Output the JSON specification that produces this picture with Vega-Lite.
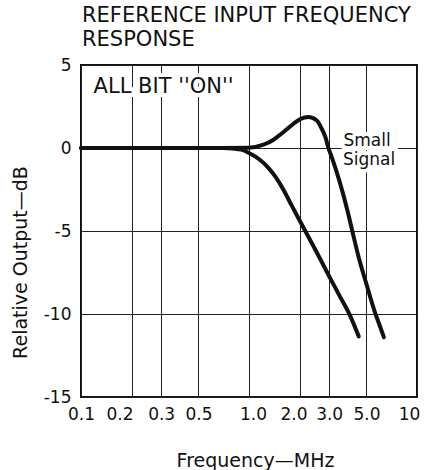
{
  "$schema": "https://vega.github.io/schema/vega-lite/v6.json",
  "width": 336,
  "height": 332,
  "autosize": "none",
  "padding": {"left": 81, "top": 65, "right": 14, "bottom": 73},
  "background": "white",
  "title": {
    "text": ["REFERENCE INPUT FREQUENCY", "RESPONSE"],
    "anchor": "start",
    "frame": "group",
    "font": "DejaVu Sans",
    "fontSize": 21,
    "fontWeight": "normal",
    "color": "#111",
    "lineHeight": 24,
    "baseline": "bottom",
    "offset": 14,
    "dx": 1,
    "dy": 29
  },
  "config": {
    "view": {"stroke": "#111", "strokeWidth": 2},
    "axis": {
      "grid": true,
      "gridColor": "#222",
      "gridWidth": 1,
      "gridOpacity": 1,
      "domain": false,
      "ticks": false,
      "labelFont": "DejaVu Sans",
      "labelFontSize": 17,
      "labelColor": "#111",
      "titleFont": "DejaVu Sans",
      "titleFontSize": 19,
      "titleFontWeight": "normal",
      "titleColor": "#111"
    }
  },
  "datasets": {
    "curves": [
      {"series": "Small Signal", "f": 0.1, "v": 0},
      {"series": "Small Signal", "f": 0.3, "v": 0},
      {"series": "Small Signal", "f": 0.6, "v": 0},
      {"series": "Small Signal", "f": 1.0, "v": 0.02},
      {"series": "Small Signal", "f": 1.22, "v": 0.2},
      {"series": "Small Signal", "f": 1.4, "v": 0.5},
      {"series": "Small Signal", "f": 1.6, "v": 0.95},
      {"series": "Small Signal", "f": 1.84, "v": 1.46},
      {"series": "Small Signal", "f": 2.03, "v": 1.76},
      {"series": "Small Signal", "f": 2.26, "v": 1.86},
      {"series": "Small Signal", "f": 2.53, "v": 1.66},
      {"series": "Small Signal", "f": 2.71, "v": 1.16},
      {"series": "Small Signal", "f": 2.85, "v": 0.65},
      {"series": "Small Signal", "f": 2.97, "v": 0},
      {"series": "Small Signal", "f": 3.12, "v": -0.6},
      {"series": "Small Signal", "f": 3.48, "v": -2.1},
      {"series": "Small Signal", "f": 3.85, "v": -3.75},
      {"series": "Small Signal", "f": 4.12, "v": -5.0},
      {"series": "Small Signal", "f": 4.5, "v": -6.6},
      {"series": "Small Signal", "f": 5.0, "v": -8.2},
      {"series": "Small Signal", "f": 5.6, "v": -9.85},
      {"series": "Small Signal", "f": 6.05, "v": -10.8},
      {"series": "Small Signal", "f": 6.35, "v": -11.4},
      {"series": "All Bits On", "f": 0.1, "v": 0},
      {"series": "All Bits On", "f": 0.5, "v": 0},
      {"series": "All Bits On", "f": 0.7, "v": 0},
      {"series": "All Bits On", "f": 0.8, "v": -0.03},
      {"series": "All Bits On", "f": 0.9, "v": -0.1},
      {"series": "All Bits On", "f": 1.0, "v": -0.3},
      {"series": "All Bits On", "f": 1.15, "v": -0.68},
      {"series": "All Bits On", "f": 1.3, "v": -1.18},
      {"series": "All Bits On", "f": 1.45, "v": -1.79},
      {"series": "All Bits On", "f": 1.6, "v": -2.5},
      {"series": "All Bits On", "f": 1.8, "v": -3.49},
      {"series": "All Bits On", "f": 2.04, "v": -4.52},
      {"series": "All Bits On", "f": 2.31, "v": -5.54},
      {"series": "All Bits On", "f": 2.65, "v": -6.67},
      {"series": "All Bits On", "f": 3.03, "v": -7.81},
      {"series": "All Bits On", "f": 3.48, "v": -8.95},
      {"series": "All Bits On", "f": 3.99, "v": -10.08},
      {"series": "All Bits On", "f": 4.5, "v": -11.35}
    ],
    "panelNote": [
      {"f": 0.31, "v": 3.3, "label": "ALL BIT ''ON''"}
    ],
    "curveNote": [
      {"f": 5.04, "v": 0.15, "label": "Small"},
      {"f": 5.18, "v": -1.0, "label": "Signal"}
    ]
  },
  "encoding": {
    "x": {
      "field": "f",
      "type": "quantitative",
      "scale": {"type": "log", "domain": [0.1, 10], "nice": false},
      "axis": {
        "values": [0.1, 0.2, 0.3, 0.5, 1, 2, 3, 5, 10],
        "labelExpr": "datum.value == 10 ? '10' : format(datum.value, '.1f')",
        "labelFlush": false,
        "labelOverlap": false,
        "labelPadding": 9,
        "labelOffset": {
          "condition": [
            {"test": "datum.value == 0.2", "value": -12},
            {"test": "datum.value == 1", "value": 4},
            {"test": "datum.value == 2", "value": -6},
            {"test": "datum.value == 10", "value": -8}
          ],
          "value": 0
        },
        "title": "Frequency—MHz",
        "titleX": 174,
        "titleY": 69,
        "titleAlign": "center",
        "titleBaseline": "alphabetic"
      }
    },
    "y": {
      "field": "v",
      "type": "quantitative",
      "scale": {"domain": [-15, 5], "nice": false, "zero": false},
      "axis": {
        "values": [-15, -10, -5, 0, 5],
        "labelExpr": "'' + datum.value",
        "labelPadding": 10,
        "title": "Relative Output—dB",
        "titleAngle": -90,
        "titleX": -55,
        "titleY": 197,
        "titleAlign": "center",
        "titleBaseline": "alphabetic"
      }
    }
  },
  "layer": [
    {
      "data": {"name": "panelNote"},
      "mark": {"type": "text", "font": "DejaVu Sans", "fontSize": 21, "align": "center", "baseline": "alphabetic", "fill": "white", "stroke": "white", "strokeWidth": 8},
      "encoding": {"text": {"field": "label"}}
    },
    {
      "data": {"name": "curveNote"},
      "mark": {"type": "text", "font": "DejaVu Sans", "fontSize": 17, "align": "center", "baseline": "alphabetic", "fill": "white", "stroke": "white", "strokeWidth": 8},
      "encoding": {"text": {"field": "label"}}
    },
    {
      "data": {"name": "curves"},
      "mark": {"type": "line", "interpolate": "monotone", "color": "#111", "strokeWidth": 4, "strokeCap": "round", "strokeJoin": "round"},
      "encoding": {"detail": {"field": "series"}}
    },
    {
      "data": {"name": "panelNote"},
      "mark": {"type": "text", "font": "DejaVu Sans", "fontSize": 21, "align": "center", "baseline": "alphabetic", "color": "#111"},
      "encoding": {"text": {"field": "label"}}
    },
    {
      "data": {"name": "curveNote"},
      "mark": {"type": "text", "font": "DejaVu Sans", "fontSize": 17, "align": "center", "baseline": "alphabetic", "color": "#111"},
      "encoding": {"text": {"field": "label"}}
    }
  ]
}
